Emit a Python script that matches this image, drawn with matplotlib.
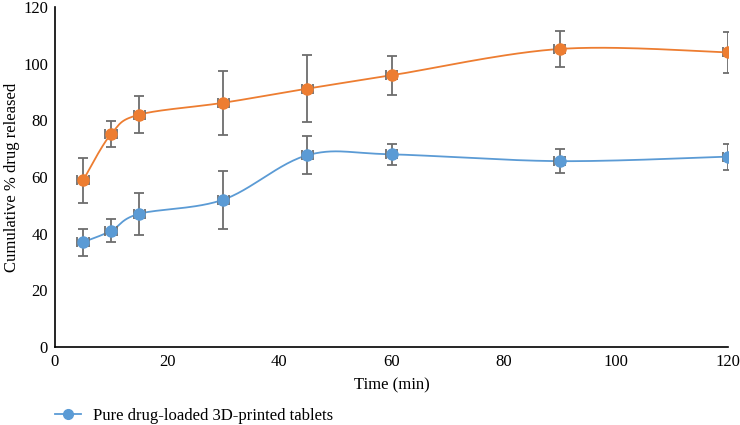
import numpy as np
import matplotlib.pyplot as plt

# data
time_min = [5, 10, 15, 30, 45, 60, 90, 120]
pure_release = [37.0, 41.0, 47.0, 52.0, 67.7, 68.0, 65.6, 67.2]
pure_err = [4.8, 4.1, 7.4, 10.2, 6.7, 3.6, 4.3, 4.6]
other_release = [58.8, 75.2, 82.0, 86.2, 91.2, 95.9, 105.2, 104.0]
other_err = [8.0, 4.6, 6.6, 11.2, 11.8, 6.8, 6.5, 7.2]
x_err = [1.0] * len(time_min)

legend_label = 'Pure drug-loaded 3D-printed tablets'
blue = '#5B9BD5'
orange = '#ED7D31'
err_color = '#6d6d6d'

plt.rcParams['font.family'] = ['Liberation Serif', 'DejaVu Serif']


def smooth(x, y, n=30):
    # Excel-like smoothed line: cubic bezier between points
    x = np.asarray(x, float)
    y = np.asarray(y, float)
    px = np.concatenate([[x[0]], x, [x[-1]]])
    py = np.concatenate([[y[0]], y, [y[-1]]])
    xs, ys = [], []
    t = np.linspace(0, 1, n)
    for i in range(1, len(px) - 2):
        p0 = np.array([px[i], py[i]])
        p3 = np.array([px[i + 1], py[i + 1]])
        c1 = p0 + (p3 - np.array([px[i - 1], py[i - 1]])) / 6
        c2 = p3 - (np.array([px[i + 2], py[i + 2]]) - p0) / 6
        b = ((1 - t) ** 3)[:, None] * p0 + (3 * (1 - t) ** 2 * t)[:, None] * c1 \
            + (3 * (1 - t) * t ** 2)[:, None] * c2 + (t ** 3)[:, None] * p3
        xs.extend(b[:, 0])
        ys.extend(b[:, 1])
    return xs, ys


fig = plt.figure(figsize=(7.4, 4.25), dpi=100)
ax = fig.add_axes([0.0743, 0.1835, 0.9097, 0.80])

for vals, errs, col, lab in [(other_release, other_err, orange, None),
                             (pure_release, pure_err, blue, legend_label)]:
    sx, sy = smooth(time_min, vals)
    ax.plot(sx, sy, color=col, lw=1.3, zorder=2)
    ax.errorbar(time_min, vals, yerr=errs, xerr=x_err, fmt='none',
                ecolor=err_color, elinewidth=1.3, capsize=3.5, capthick=1.3, zorder=3)
    ax.plot(time_min, vals, 'o', color=col, ms=8, zorder=4)
    if lab:
        handle, = ax.plot([], [], '-o', color=col, ms=7, lw=1.3, label=lab)

ax.set_xlim(0, 120)
ax.set_ylim(0, 120)
ax.set_xticks(range(0, 121, 20))
ax.set_yticks(range(0, 121, 20))
ax.tick_params(length=0, labelsize=12, pad=5)
for s in ['top', 'right']:
    ax.spines[s].set_visible(False)
ax.spines['left'].set_linewidth(1.2)
ax.spines['bottom'].set_linewidth(1.2)
ax.set_xlabel('Time (min)', fontsize=12, labelpad=5)
ax.set_ylabel('Cumulative % drug released', fontsize=12, labelpad=2)

fig.legend(handles=[handle], loc='center left', bbox_to_anchor=(0.074, 1 - 416 / 425),
           frameon=False, fontsize=12, handlelength=1.6, handletextpad=0.7,
           borderpad=0, borderaxespad=0)

fig.savefig('out.png', dpi=100)
